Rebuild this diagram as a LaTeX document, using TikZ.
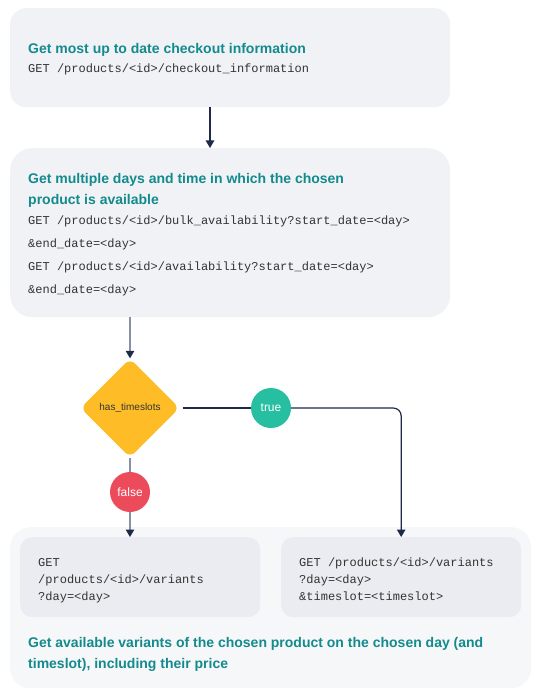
\documentclass[tikz,border=0pt]{standalone}
\usepackage{fontspec}
\setmainfont{Liberation Sans}
\setmonofont{Liberation Mono}
\usetikzlibrary{shapes.geometric,arrows.meta}
\definecolor{boxgray}{HTML}{F1F2F6}
\definecolor{contgray}{HTML}{F6F7F9}
\definecolor{innergray}{HTML}{EBECF1}
\definecolor{tealtxt}{HTML}{138A8C}
\definecolor{navy}{HTML}{1E2A47}
\definecolor{lightline}{HTML}{8790A6}
\definecolor{yel}{HTML}{FEBD26}
\definecolor{grn}{HTML}{26BFA1}
\definecolor{redc}{HTML}{EC4B5B}
\definecolor{codetxt}{HTML}{333333}
\tikzset{
  panel/.style={fill=boxgray, draw=none, anchor=north west, inner sep=0pt},
  title/.style={anchor=base west, inner sep=0pt, text=tealtxt, font=\fontsize{14}{17}\selectfont\bfseries},
  code/.style={anchor=base west, inner sep=0pt, text=codetxt, font=\fontsize{12}{14}\selectfont\ttfamily},
  badge/.style={circle, minimum size=40pt, inner sep=0pt, text=white, font=\fontsize{12}{14}\selectfont},
  navyarrow/.style={draw=navy, line width=1.2pt, -{Triangle[width=8.5pt,length=7.5pt,color=navy]}},
  navyline/.style={draw=navy, line width=1.2pt},
  grayarrow/.style={draw=lightline, line width=1.2pt, -{Triangle[width=8.5pt,length=7.5pt,color=navy]}},
  grayline/.style={draw=lightline, line width=1.2pt},
}
\begin{document}
\begin{tikzpicture}[x=1pt,y=-1pt]
\useasboundingbox (0,0) rectangle (543,695);
% boxes
\node[panel, rounded corners=16pt, minimum width=440pt, minimum height=99pt] (b1) at (10,8) {};
\node[panel, rounded corners=22pt, minimum width=440pt, minimum height=169pt] (b2) at (10,148) {};
\node[panel, fill=contgray, rounded corners=20pt, minimum width=521pt, minimum height=161pt] (cont) at (10,527) {};
\node[panel, fill=innergray, rounded corners=12pt, minimum width=240pt, minimum height=80pt] (li) at (20,537) {};
\node[panel, fill=innergray, rounded corners=12pt, minimum width=240pt, minimum height=80pt] (ri) at (281,537) {};
% box 1 text
\node[title] (t1) at (28,54) {Get most up to date checkout information};
\node[code] (c1) at (28,73) {GET /products/<id>/checkout\_information};
% box 2 text
\node[title] (t2a) at (28,183) {Get multiple days and time in which the chosen};
\node[title] (t2b) at (28,204) {product is available};
\node[code] (c2a) at (28,224) {GET /products/<id>/bulk\_availability?start\_date=<day>};
\node[code] (c2b) at (28,247) {\&end\_date=<day>};
\node[code] (c2c) at (28,270) {GET /products/<id>/availability?start\_date=<day>};
\node[code] (c2d) at (28,293) {\&end\_date=<day>};
% inner box texts
\node[code] (l1) at (38,566) {GET};
\node[code] (l2) at (38,583) {/products/<id>/variants};
\node[code] (l3) at (38,600) {?day=<day>};
\node[code] (r1) at (299,566) {GET /products/<id>/variants};
\node[code] (r2) at (299,583) {?day=<day>};
\node[code] (r3) at (299,600) {\&timeslot=<timeslot>};
\node[title] (t3a) at (28,647) {Get available variants of the chosen product on the chosen day (and};
\node[title] (t3b) at (28,668) {timeslot), including their price};
% decision
\node[diamond, fill=yel, rounded corners=7pt, minimum width=99pt, minimum height=99pt, inner sep=0pt, text=codetxt, font=\fontsize{10}{12}\selectfont] (d) at (130,408) {has\_timeslots};
\node[badge, fill=grn] (tr) at (271,408) {true};
\node[badge, fill=redc] (fa) at (130,492) {false};
% connectors
\coordinate (x1) at (210,0);
\draw[navyarrow] (b1.south -| x1) -- (b2.north -| x1);
\draw[grayarrow] (b2.south -| d.north) -- (d.north);
\draw[navyline] ([xshift=3pt]d.east) -- (tr.west);
\draw[navyarrow, rounded corners=8pt] (tr.east) -| (ri.north);
\draw[grayline] (d.south) -- (fa.north);
\draw[grayarrow] (fa.south) -- (fa.south |- li.north);
\end{tikzpicture}
\end{document}
